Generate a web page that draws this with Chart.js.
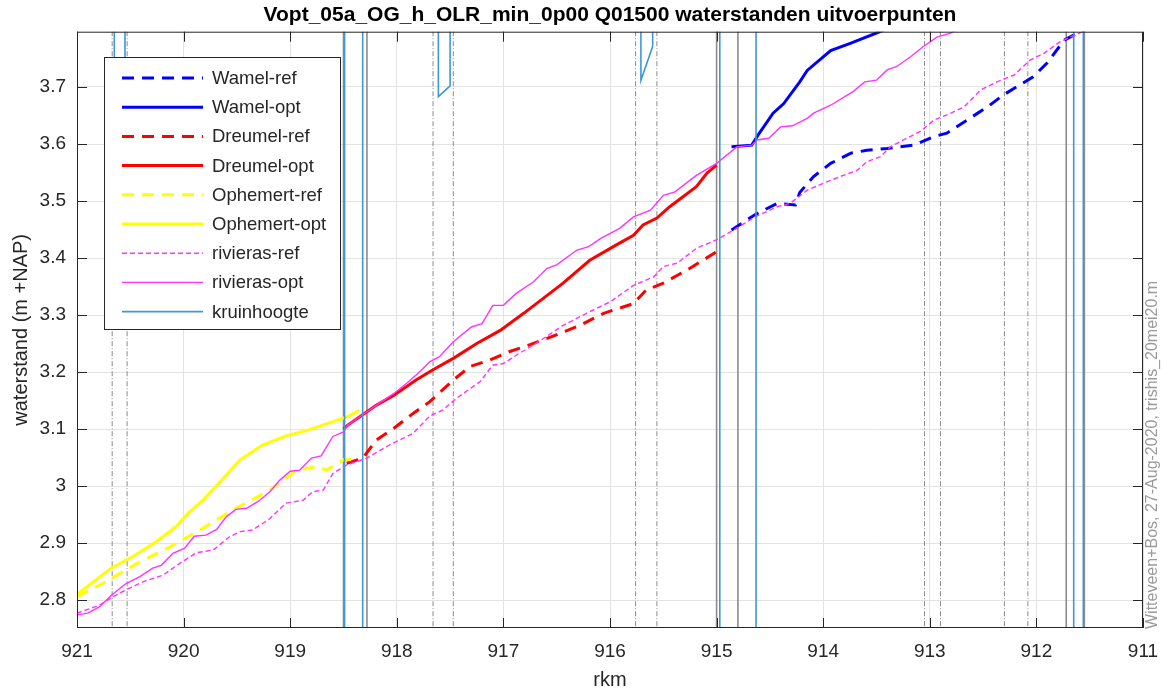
<!DOCTYPE html>
<html>
<head>
<meta charset="utf-8">
<script src="https://cdn.jsdelivr.net/npm/chart.js@4/dist/chart.umd.min.js"></script>
<style>
  html, body { margin: 0; padding: 0; background: #fff; }
  #wrap { width: 1168px; height: 693px; }
</style>
</head>
<body>
<div id="wrap"><canvas id="c" width="1168" height="693"></canvas></div>
<script>
// ===== waterstanden uitvoerpunten, rkm 921 -> 911 =====

const TITLE = 'Vopt_05a_OG_h_OLR_min_0p00 Q01500 waterstanden uitvoerpunten';
const STAMP = 'Witteveen+Bos, 27-Aug-2020, trishis_20mei20.m';
const X_TICKS = [911, 912, 913, 914, 915, 916, 917, 918, 919, 920, 921];
const Y_TICKS = [2.8, 2.9, 3.0, 3.1, 3.2, 3.3, 3.4, 3.5, 3.6, 3.7];

// Wamel
const WAM_REF_KM = [914.86, 914.64, 914.43, 914.26, 914.22, 914.09, 913.93, 913.74, 913.59, 913.4, 913.15, 912.96, 912.84, 912.65, 912.46, 912.31, 912.03, 911.9, 911.74, 911.65, 911.55];
const WAM_REF_H = [3.449, 3.476, 3.496, 3.493, 3.515, 3.543, 3.566, 3.584, 3.589, 3.592, 3.598, 3.613, 3.619, 3.642, 3.665, 3.686, 3.718, 3.742, 3.782, 3.791, 3.80];
const WAM_OPT_KM = [914.86, 914.67, 914.64, 914.61, 914.47, 914.37, 914.22, 914.15, 913.93, 913.74, 913.43];
const WAM_OPT_H = [3.595, 3.598, 3.607, 3.616, 3.654, 3.671, 3.709, 3.729, 3.764, 3.777, 3.80];

// Dreumel
const DRE_REF_KM = [918.47, 918.32, 918.19, 918.03, 917.85, 917.69, 917.47, 917.31, 917.13, 916.94, 916.75, 916.59, 916.28, 916.06, 915.78, 915.66, 915.5, 915.25, 915.0];
const DRE_REF_H = [3.04, 3.049, 3.081, 3.101, 3.127, 3.148, 3.186, 3.21, 3.221, 3.236, 3.248, 3.259, 3.282, 3.303, 3.32, 3.344, 3.356, 3.382, 3.411];
const DRE_OPT_KM = [918.5, 918.46, 918.32, 918.19, 918.03, 917.82, 917.66, 917.47, 917.25, 917.03, 916.81, 916.44, 916.19, 915.94, 915.78, 915.69, 915.56, 915.44, 915.19, 915.09, 915.0];
const DRE_OPT_H = [3.10, 3.107, 3.125, 3.142, 3.159, 3.186, 3.204, 3.224, 3.25, 3.273, 3.303, 3.356, 3.396, 3.423, 3.44, 3.458, 3.47, 3.49, 3.525, 3.549, 3.563];

// Ophemert
const OPH_REF_KM = [921.0, 920.76, 920.44, 920.13, 919.82, 919.51, 919.19, 918.94, 918.75, 918.66, 918.5, 918.35];
const OPH_REF_H = [2.806, 2.829, 2.864, 2.893, 2.926, 2.961, 2.993, 3.028, 3.034, 3.028, 3.046, 3.047];
const OPH_OPT_KM = [921.0, 920.68, 920.48, 920.26, 920.07, 919.96, 919.82, 919.66, 919.47, 919.26, 919.04, 918.82, 918.6, 918.46, 918.35];
const OPH_OPT_H = [2.81, 2.856, 2.876, 2.902, 2.929, 2.952, 2.975, 3.007, 3.046, 3.072, 3.088, 3.099, 3.113, 3.122, 3.133];

// rivieras
const RIV_REF_KM = [921.0, 920.79, 920.66, 920.54, 920.38, 920.19, 920.04, 919.88, 919.72, 919.57, 919.47, 919.35, 919.19, 919.04, 918.88, 918.79, 918.69, 918.6, 918.47, 918.28, 918.07, 917.85, 917.69, 917.57, 917.44, 917.38, 917.22, 917.1, 917.0, 916.85, 916.72, 916.59, 916.44, 916.22, 916.0, 915.78, 915.59, 915.5, 915.37, 915.19, 915.0, 914.84, 914.64, 914.43, 914.31, 914.15, 914.0, 913.84, 913.68, 913.59, 913.46, 913.37, 913.25, 913.09, 912.96, 912.84, 912.68, 912.52, 912.37, 912.21, 912.06, 911.93, 911.78, 911.68, 911.59, 911.55];
const RIV_REF_H = [2.777, 2.791, 2.806, 2.818, 2.832, 2.844, 2.864, 2.883, 2.888, 2.911, 2.92, 2.923, 2.943, 2.97, 2.975, 2.99, 2.993, 3.022, 3.037, 3.049, 3.072, 3.092, 3.123, 3.133, 3.154, 3.162, 3.183, 3.212, 3.215, 3.233, 3.247, 3.263, 3.282, 3.303, 3.323, 3.352, 3.367, 3.385, 3.391, 3.417, 3.432, 3.449, 3.472, 3.49, 3.496, 3.519, 3.531, 3.543, 3.554, 3.569, 3.578, 3.595, 3.607, 3.622, 3.642, 3.651, 3.665, 3.695, 3.709, 3.721, 3.747, 3.759, 3.779, 3.788, 3.795, 3.80];
const RIV_OPT_KM = [921.0, 920.9, 920.79, 920.68, 920.54, 920.41, 920.29, 920.21, 920.1, 919.99, 919.9, 919.79, 919.69, 919.6, 919.51, 919.41, 919.3, 919.19, 919.1, 919.0, 918.91, 918.8, 918.71, 918.6, 918.5, 918.46, 918.32, 918.19, 918.03, 917.91, 917.8, 917.69, 917.6, 917.47, 917.3, 917.2, 917.1, 917.0, 916.88, 916.72, 916.59, 916.5, 916.31, 916.2, 916.09, 915.91, 915.78, 915.62, 915.5, 915.39, 915.19, 915.0, 914.81, 914.67, 914.62, 914.51, 914.4, 914.29, 914.15, 914.09, 913.93, 913.72, 913.61, 913.5, 913.4, 913.31, 913.18, 913.06, 912.93, 912.81, 912.75];
const RIV_OPT_H = [2.774, 2.777, 2.788, 2.808, 2.829, 2.841, 2.856, 2.861, 2.882, 2.891, 2.912, 2.914, 2.924, 2.946, 2.959, 2.961, 2.973, 2.99, 3.01, 3.026, 3.028, 3.049, 3.053, 3.087, 3.095, 3.107, 3.125, 3.142, 3.162, 3.18, 3.198, 3.218, 3.227, 3.253, 3.279, 3.285, 3.317, 3.317, 3.338, 3.358, 3.382, 3.388, 3.414, 3.42, 3.434, 3.452, 3.472, 3.484, 3.51, 3.516, 3.545, 3.566, 3.595, 3.598, 3.607, 3.61, 3.63, 3.632, 3.645, 3.654, 3.668, 3.692, 3.709, 3.712, 3.73, 3.736, 3.753, 3.771, 3.788, 3.794, 3.80];

// kruinhoogte (mostly above the plot, dips where the dike is low)
const KRUIN_KM = [921.0, 920.65, 920.65, 920.55, 920.55, 918.49, 918.49, 918.32, 918.32, 917.61, 917.61, 917.5, 917.5, 915.71, 915.71, 915.6, 915.6, 914.97, 914.97, 914.63, 914.63, 911.65, 911.65, 911.56, 911.56, 911.0];
const KRUIN_H = [4.2, 4.2, 3.3, 3.3, 4.2, 4.2, 2.0, 2.0, 4.2, 4.2, 3.683, 3.702, 4.2, 4.2, 3.712, 3.771, 4.2, 4.2, 2.0, 2.0, 4.2, 4.2, 2.0, 2.0, 4.2, 4.2];

// section markers
const SOLID_KM = [918.5, 918.28, 915.0, 914.8, 911.72, 911.55];
const DASHDOT_KM = [920.67, 920.53, 917.66, 917.47, 915.76, 915.56, 913.05, 912.9, 912.3, 912.08];

const Y_MIN = 2.751, Y_MAX = 3.797;
const FONT = "'Liberation Sans', Arial, Helvetica, sans-serif";
const AXIS_COLOR = '#262626';

function pts(km, h) { return km.map((k, i) => ({ x: k, y: h[i] })); }
function vlines(km) {
  const out = [];
  km.forEach(k => { out.push({ x: k, y: 1 }, { x: k, y: 5 }, { x: k, y: null }); });
  return out;
}

function series(label, km, h, color, width, dash, order) {
  return {
    label, data: pts(km, h), borderColor: color, backgroundColor: color,
    borderWidth: width, borderDash: dash, pointRadius: 0, tension: 0,
    fill: false, order, spanGaps: false
  };
}

const datasets = [
  series('Wamel-ref', WAM_REF_KM, WAM_REF_H, '#0000ff', 3, [12, 8], 9),
  series('Wamel-opt', WAM_OPT_KM, WAM_OPT_H, '#0000ff', 3, [], 8),
  series('Dreumel-ref', DRE_REF_KM, DRE_REF_H, '#ff0000', 3, [12, 8], 7),
  series('Dreumel-opt', DRE_OPT_KM, DRE_OPT_H, '#ff0000', 3, [], 6),
  series('Ophemert-ref', OPH_REF_KM, OPH_REF_H, '#ffff00', 3, [12, 8], 5),
  series('Ophemert-opt', OPH_OPT_KM, OPH_OPT_H, '#ffff00', 3, [], 4),
  series('rivieras-ref', RIV_REF_KM, RIV_REF_H, '#ff33ff', 1.4, [5, 3], 3),
  series('rivieras-opt', RIV_OPT_KM, RIV_OPT_H, '#ff33ff', 1.4, [], 2),
  series('kruinhoogte', KRUIN_KM, KRUIN_H, '#3f97d6', 1.6, [], 1),
  { label: '_solid', data: vlines(SOLID_KM), borderColor: '#8c8c8c', borderWidth: 1.6,
    pointRadius: 0, spanGaps: false, order: 20 },
  { label: '_dashdot', data: vlines(DASHDOT_KM), borderColor: '#8a8a8a', borderWidth: 1,
    borderDash: [5, 2, 1, 2], pointRadius: 0, spanGaps: false, order: 21 }
];
const LEGEND_ITEMS = datasets.slice(0, 9);

// box, inward ticks, in-plot legend and the side stamp
const decor = {
  id: 'decor',
  afterDraw(chart) {
    const { ctx, chartArea: a, scales: { x, y } } = chart;
    ctx.save();
    ctx.strokeStyle = AXIS_COLOR;
    ctx.lineWidth = 1;
    ctx.setLineDash([]);
    ctx.strokeRect(a.left + 0.5, a.top + 0.5, a.right - a.left - 1, a.bottom - a.top - 1);
    ctx.beginPath();
    X_TICKS.forEach(v => {
      const px = Math.round(x.getPixelForValue(v)) + 0.5;
      ctx.moveTo(px, a.bottom); ctx.lineTo(px, a.bottom - 10);
      ctx.moveTo(px, a.top); ctx.lineTo(px, a.top + 10);
    });
    Y_TICKS.forEach(v => {
      const py = Math.round(y.getPixelForValue(v)) + 0.5;
      ctx.moveTo(a.left, py); ctx.lineTo(a.left + 10, py);
      ctx.moveTo(a.right, py); ctx.lineTo(a.right - 10, py);
    });
    ctx.stroke();

    // legend
    const bx = 104.5, by = 57.5, bw = 236, bh = 272;
    ctx.fillStyle = '#fff';
    ctx.fillRect(bx, by, bw, bh);
    ctx.strokeStyle = AXIS_COLOR;
    ctx.strokeRect(bx, by, bw, bh);
    ctx.font = '18.5px ' + FONT;
    ctx.textBaseline = 'middle';
    ctx.textAlign = 'left';
    LEGEND_ITEMS.forEach((d, i) => {
      const ly = 78 + i * 29.2;
      ctx.strokeStyle = d.borderColor;
      ctx.lineWidth = d.borderWidth;
      ctx.setLineDash(d.borderDash || []);
      ctx.beginPath();
      ctx.moveTo(122, ly); ctx.lineTo(203, ly);
      ctx.stroke();
      ctx.fillStyle = AXIS_COLOR;
      ctx.fillText(d.label, 212, ly + 1);
    });
    ctx.setLineDash([]);

    // stamp
    ctx.translate(1153, 629);
    ctx.rotate(-Math.PI / 2);
    ctx.font = '16px ' + FONT;
    ctx.fillStyle = '#9a9a9a';
    ctx.textAlign = 'left';
    ctx.fillText(STAMP, 0, 0);
    ctx.restore();
  }
};

new Chart(document.getElementById('c'), {
  type: 'line',
  data: { datasets },
  options: {
    responsive: false,
    animation: false,
    events: [],
    layout: { padding: { left: 0, right: 25, top: 0, bottom: 0 } },
    plugins: {
      legend: { display: false },
      tooltip: { enabled: false },
      title: {
        display: true, text: TITLE, fullSize: false, color: '#000',
        font: { family: FONT, size: 21, weight: 'bold' },
        padding: { top: 3, bottom: 3.5 }
      }
    },
    scales: {
      x: {
        type: 'linear', reverse: true, min: 911, max: 921,
        afterBuildTicks: s => { s.ticks = X_TICKS.map(v => ({ value: v })); },
        afterFit: s => { s.height = 65; },
        ticks: { color: AXIS_COLOR, padding: 12, font: { family: FONT, size: 19 }, maxRotation: 0,
                 callback: v => String(v) },
        grid: { color: '#e3e3e3', lineWidth: 1, drawTicks: false },
        border: { display: false },
        title: { display: true, text: 'rkm', color: AXIS_COLOR,
                 font: { family: FONT, size: 20 }, padding: { top: 0, bottom: 1 } }
      },
      y: {
        type: 'linear', min: Y_MIN, max: Y_MAX,
        afterBuildTicks: s => { s.ticks = Y_TICKS.map(v => ({ value: v })); },
        afterFit: s => { s.width = 77; },
        ticks: { color: AXIS_COLOR, padding: 11, font: { family: FONT, size: 19 },
                 callback: v => String(+v.toFixed(1)) },
        grid: { color: '#e3e3e3', lineWidth: 1, drawTicks: false },
        border: { display: false },
        title: { display: true, text: 'waterstand (m +NAP)', color: AXIS_COLOR,
                 font: { family: FONT, size: 20 }, padding: { top: 9, bottom: 0 } }
      }
    }
  },
  plugins: [decor]
});
</script>
</body>
</html>
